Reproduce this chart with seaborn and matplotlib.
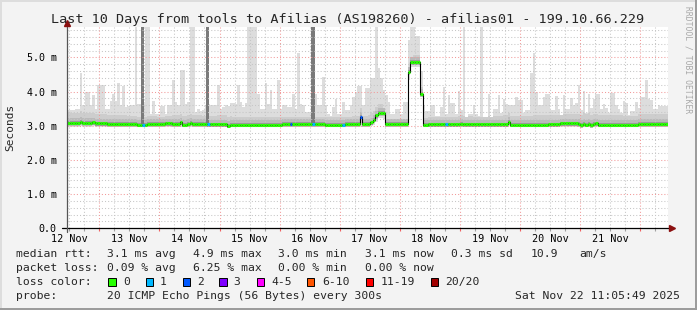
import numpy as np
import pandas as pd
import matplotlib
matplotlib.use("Agg")
import matplotlib.pyplot as plt
import seaborn as sns
from matplotlib.patches import Rectangle
from matplotlib.transforms import blended_transform_factory

# ---------------- data (hourly bins, ms) ----------------
title = "Last 10 Days from tools to Afilias (AS198260) - afilias01 - 199.10.66.229"
start_time = "2025-11-12 11:05:49"

smoke_max = (
    [3.45,3.45,3.45,3.50,3.50,4.54,3.60,3.99,3.99,3.60,3.89,3.50,4.20,4.20,4.20,3.48,3.50,3.71,3.94,3.71,4.26,3.60,4.16,3.55] +
    [3.58,3.60,3.60,5.90,3.65,3.65,3.65,5.90,5.90,3.35,3.71,3.35,3.35,3.58,3.58,3.35,3.60,3.60,4.33,3.69,3.62,4.62,4.62,3.65] +
    [3.69,5.90,5.90,3.40,3.50,3.42,3.45,3.60,3.65,3.62,3.60,3.60,4.20,3.50,3.55,3.62,3.58,3.67,3.67,3.65,4.18,3.69,3.55,3.67] +
    [5.90,5.90,5.90,5.90,3.94,3.50,3.50,4.26,3.65,4.04,3.50,3.50,4.33,3.50,3.62,3.62,3.55,3.55,3.94,3.50,5.14,3.65,3.60,3.40] +
    [3.40,3.40,3.55,3.94,3.60,3.60,4.43,3.60,3.35,3.29,3.55,3.77,3.35,3.35,3.69,3.45,3.45,3.60,3.84,3.99,4.17,4.17,3.60,4.10] +
    [4.10,4.39,4.39,5.90,4.68,4.40,4.06,3.90,3.70,3.35,3.35,3.50,3.50,3.35,3.70,3.70,5.50,5.90,5.90,5.64,5.64,4.60,3.60,3.42] +
    [3.42,3.60,3.60,3.29,3.29,3.55,4.13,3.35,3.89,3.67,3.67,3.35,4.01,3.45,5.90,3.26,3.35,3.35,3.60,3.35,3.29,5.90,3.26,3.26] +
    [3.94,3.26,3.48,3.48,3.89,3.38,3.77,3.65,3.62,3.62,3.62,3.84,3.74,3.74,3.38,3.45,3.45,4.53,5.14,3.99,3.60,3.60,3.84,3.94] +
    [3.94,3.45,3.45,3.87,3.50,3.32,3.89,3.48,3.48,3.81,3.60,3.67,4.18,3.45,4.01,3.38,3.94,3.52,3.79,3.94,3.94,3.50,3.65,3.52] +
    [3.38,3.97,3.97,3.60,3.50,3.38,3.71,3.67,3.32,3.42,3.42,3.69,3.52,3.84,3.84,4.33,3.79,3.74,3.50,3.50,3.60,3.58,3.58,3.58]
)

smoke_min = (
    [2.97,2.97,2.97,2.97,2.97,2.98,2.97,2.97,2.97,2.97,2.98,2.97,2.97,2.97,2.97,2.97,2.96,2.96,2.96,2.96,2.96,2.96,2.96,2.96] +
    [2.96,2.96,2.96,2.96,2.95,2.95,2.95,2.95,2.96,2.96,2.96,2.96,2.96,2.96,2.96,2.97,2.97,2.97,2.96,2.96,2.96,2.97,2.95,2.95] +
    [2.96,2.97,2.96,2.96,2.96,2.96,2.96,2.96,2.95,2.95,2.95,2.95,2.95,2.95,2.95,2.95,2.93,2.95,2.95,2.95,2.95,2.95,2.95,2.95] +
    [2.95,2.95,2.95,2.95,2.95,2.95,2.95,2.95,2.95,2.95,2.95,2.95,2.95,2.95,2.96,2.96,2.96,2.96,2.96,2.96,2.96,2.96,2.96,2.96] +
    [2.96,2.96,2.96,2.96,2.96,2.96,2.96,2.95,2.95,2.95,2.95,2.95,2.95,2.95,2.95,2.96,2.96,2.96,2.96,2.96,2.96,2.97,2.96,2.96] +
    [2.96,2.98,3.02,3.12,3.22,3.22,3.20,2.97,2.96,2.96,2.96,2.96,2.96,2.96,2.96,2.96,4.35,4.72,4.72,4.72,4.72,3.85,2.95,2.95] +
    [2.95,2.95,2.95,2.95,2.95,2.95,2.95,2.95,2.95,2.95,2.95,2.95,2.95,2.96,2.95,2.95,2.95,2.95,2.95,2.95,2.95,2.95,2.95,2.95] +
    [2.95,2.95,2.95,2.95,2.95,2.95,2.95,2.95,3.00,2.95,2.95,2.95,2.95,2.95,2.95,2.95,2.95,2.95,2.95,2.95,2.95,2.95,2.95,2.95] +
    [2.95,2.95,2.95,2.95,2.95,2.97,2.97,2.97,2.97,2.97,2.97,2.97,2.96,2.94,2.97,2.95,2.97,2.94,2.96,2.97,2.95,2.95,2.95,2.95] +
    [2.95,2.95,2.95,2.95,2.95,2.95,2.95,2.95,2.95,2.95,2.95,2.95,2.97,2.97,2.97,2.96,2.96,2.96,2.96,2.96,2.96,2.96,2.96,2.96]
)

median_rtt = (
    [3.08,3.08,3.08,3.08,3.08,3.12,3.08,3.08,3.08,3.08,3.10,3.07,3.07,3.07,3.07,3.07,3.05,3.05,3.05,3.05,3.05,3.05,3.05,3.05] +
    [3.05,3.05,3.05,3.05,3.03,3.03,3.03,3.03,3.05,3.05,3.05,3.05,3.05,3.05,3.05,3.07,3.07,3.07,3.05,3.05,3.05,3.10,3.03,3.03] +
    [3.05,3.09,3.05,3.05,3.05,3.05,3.05,3.05,3.04,3.04,3.04,3.04,3.04,3.04,3.04,3.04,3.00,3.03,3.03,3.03,3.03,3.03,3.03,3.03] +
    [3.03,3.03,3.03,3.03,3.03,3.03,3.03,3.03,3.03,3.03,3.03,3.03,3.03,3.03,3.05,3.05,3.05,3.05,3.05,3.05,3.05,3.05,3.05,3.05] +
    [3.05,3.05,3.05,3.05,3.05,3.05,3.05,3.03,3.03,3.03,3.03,3.03,3.03,3.03,3.03,3.05,3.05,3.05,3.05,3.05,3.05,3.27,3.05,3.05] +
    [3.05,3.10,3.18,3.30,3.38,3.38,3.38,3.06,3.05,3.05,3.05,3.05,3.05,3.05,3.05,3.05,4.57,4.86,4.86,4.86,4.86,3.94,3.03,3.03] +
    [3.04,3.04,3.04,3.04,3.04,3.04,3.04,3.04,3.04,3.04,3.04,3.04,3.04,3.06,3.04,3.04,3.04,3.04,3.04,3.04,3.04,3.04,3.04,3.04] +
    [3.04,3.04,3.04,3.04,3.04,3.04,3.04,3.04,3.12,3.03,3.03,3.03,3.03,3.03,3.03,3.03,3.03,3.03,3.03,3.03,3.03,3.03,3.03,3.03] +
    [3.04,3.04,3.04,3.04,3.04,3.07,3.07,3.07,3.07,3.07,3.07,3.07,3.05,3.02,3.06,3.03,3.06,3.02,3.05,3.07,3.03,3.03,3.03,3.03] +
    [3.03,3.03,3.03,3.03,3.03,3.03,3.03,3.03,3.03,3.03,3.03,3.03,3.06,3.06,3.06,3.05,3.05,3.05,3.05,3.05,3.05,3.05,3.05,3.05]
)

# upper spread of the denser smoke above the median, per 6-hour block
smoke_spread = [0.30,0.28,0.26,0.25, 0.24,0.24,0.22,0.25, 0.25,0.24,0.26,0.24,
                0.22,0.24,0.22,0.22, 0.20,0.22,0.22,0.24, 0.26,0.15,0.15,0.20,
                0.22,0.22,0.24,0.22, 0.24,0.26,0.26,0.28, 0.28,0.28,0.30,0.28,
                0.28,0.26,0.28,0.28]

# dense full-height smoke columns (hour start, hour end, top in ms)
dense_start = [29.5, 55.5, 97.4]
dense_end = [30.9, 56.9, 98.9]
dense_top = [5.9, 5.9, 5.9]

# hours with packet loss and number of lost pings
loss_hours = [30, 56, 89, 98, 110, 117, 151]
loss_counts = [1, 1, 2, 1, 1, 2, 1]

loss_labels = ["0", "1", "2", "3", "4-5", "6-10", "11-19", "20/20"]
loss_palette = ["#26ff00", "#00b8ff", "#0059ff", "#7e00ff", "#ff00ff", "#ff5500", "#ff0000", "#a10000"]

y_ticks = [0, 1, 2, 3, 4, 5]
y_tick_labels = ["0.0", "1.0 m", "2.0 m", "3.0 m", "4.0 m", "5.0 m"]
day_labels = ["12 Nov", "13 Nov", "14 Nov", "15 Nov", "16 Nov", "17 Nov", "18 Nov", "19 Nov", "20 Nov", "21 Nov"]

legend_rows = [
    ["median rtt:", "3.1 ms avg", "4.9 ms max", "3.0 ms min", "3.1 ms now", "0.3 ms sd", "10.9", "am/s"],
    ["packet loss:", "0.09 % avg", "6.25 % max", "0.00 % min", "0.00 % now"],
]
probe_text = ["probe:", "20 ICMP Echo Pings (56 Bytes) every 300s"]
stamp_text = "Sat Nov 22 11:05:49 2025"

# ---------------- derived ----------------
smoke_max = np.array(smoke_max)
smoke_min = np.array(smoke_min)
median_rtt = np.array(median_rtt)
n = len(median_rtt)
hours = np.arange(n)
edges = np.arange(n + 1)
loss = np.zeros(n, dtype=int)
for h, c in zip(loss_hours, loss_counts):
    loss[h] = c
def loss_color(c):
    if c <= 3:
        return loss_palette[c]
    if c <= 5:
        return loss_palette[4]
    if c <= 10:
        return loss_palette[5]
    if c < 20:
        return loss_palette[6]
    return loss_palette[7]
seg_colors = [loss_color(c) for c in loss]

def ext(a):
    a = np.asarray(a, dtype=float)
    return np.append(a, a[-1])

t0 = pd.Timestamp(start_time)
hr = pd.Timedelta(hours=1)
midnights = (pd.date_range("2025-11-13", "2025-11-22", freq="D") - t0) / hr
noons = (pd.date_range("2025-11-12 12:00", "2025-11-21 12:00", freq="D") - t0) / hr
six_h = (pd.date_range("2025-11-12 12:00", "2025-11-22 06:00", freq="6h") - t0) / hr
minor_h = [v for v in six_h if min(abs(v - m) for m in midnights) > 0.5]

# ---------------- figure ----------------
sns.set_style("white")
plt.rcParams["font.family"] = ["DejaVu Sans Mono", "DejaVu Sans"]

W, H = 697, 310
fig = plt.figure(figsize=(W / 100, H / 100), dpi=100, facecolor="#f3f3f3")
x0, x1, yb, yt = 67, 668, 228.3, 27.3
ax = fig.add_axes([x0 / W, (H - yb) / H, (x1 - x0) / W, (yb - yt) / H])
ax.set_facecolor("white")
ax.set_xlim(0, n)
ax.set_ylim(0, 5.88)
for s in ax.spines.values():
    s.set_visible(False)

# smoke
ax.fill_between(edges, ext(smoke_min), ext(smoke_max), step="post", color="#dddddd", lw=0, zorder=1)
mid_hi = np.minimum(median_rtt + np.repeat(smoke_spread, 6), smoke_max)
mid_lo = np.maximum(smoke_min, median_rtt - 0.09)
ax.fill_between(edges, ext(mid_lo), ext(mid_hi), step="post", color="#cdcdcd", lw=0, zorder=1.1)
ax.fill_between(edges, ext(mid_lo), ext(np.minimum(median_rtt + 0.14, mid_hi)), step="post",
                color="#bababa", lw=0, zorder=1.15)
ax.fill_between(edges, ext(np.maximum(smoke_min, median_rtt - 0.07)), ext(median_rtt + 0.05),
                step="post", color="#9a9a9a", lw=0, zorder=1.2)
for s_, e_, t_ in zip(dense_start, dense_end, dense_top):
    b_ = median_rtt[int(s_)]
    ax.bar(s_, t_ - b_, bottom=b_, width=e_ - s_, align="edge", color="#7a7a7a", lw=0, zorder=1.3)

# grid (drawn over smoke)
gray, red = "#c6c6c6", "#f29a9a"
for v in np.arange(0.2, 5.88, 0.2):
    if abs(v - round(v)) > 0.05:
        ax.axhline(v, color=gray, lw=0.75, ls=(0, (1, 2)), zorder=2)
for v in y_ticks[1:]:
    ax.axhline(v, color=red, lw=0.75, ls=(0, (1, 2)), zorder=2.1)
for v in minor_h:
    ax.axvline(v, color=gray, lw=0.75, ls=(0, (1, 2)), zorder=2)
for v in midnights:
    ax.axvline(v, color=red, lw=0.75, ls=(0, (1, 2)), zorder=2.1)

# median line
df = pd.DataFrame({"hour": edges, "median": ext(median_rtt)})
sns.lineplot(data=df, x="hour", y="median", drawstyle="steps-post", color="black",
             lw=0.8, ax=ax, legend=False, zorder=3)
ax.hlines(median_rtt, hours, hours + 1, colors=seg_colors, lw=2.2, zorder=4)
ax.set_xlabel("")
ax.set_ylabel("")

# ticks
ax.set_yticks(y_ticks, y_tick_labels)
ax.set_xticks(list(noons), day_labels)
ax.tick_params(axis="y", length=0, pad=7.5, labelsize=7.2, colors="#000000")
ax.tick_params(axis="x", length=0, pad=4.0, labelsize=7.3, colors="#000000")
trx = blended_transform_factory(ax.transData, ax.transAxes)
tk = 3.0 / (yb - yt)
ax.vlines(list(midnights), -tk, 0, transform=trx, colors="#f06060", lw=0.8, clip_on=False, zorder=5)
ax.vlines(minor_h, -tk, 0, transform=trx, colors="#a0a0a0", lw=0.8, clip_on=False, zorder=5)

# axes lines with arrows
pw = x1 - x0
ph = yb - yt
ax.plot([-5 / pw, 1 + 3 / pw], [0, 0], transform=ax.transAxes, color="black", lw=0.9, clip_on=False, zorder=6)
ax.plot([0, 0], [-4 / ph, 1 + 4 / ph], transform=ax.transAxes, color="#555555", lw=0.9, clip_on=False, zorder=6)
ax.plot([1 + 4 / pw], [0], marker=">", ms=4.5, color="#8b1010", transform=ax.transAxes, clip_on=False, zorder=7)
ax.plot([0], [1 + 4.5 / ph], marker="^", ms=4.5, color="#8b1010", transform=ax.transAxes, clip_on=False, zorder=7)

# titles and labels
fig.text(347.5 / W, 1 - 19 / H, title, ha="center", va="center", fontsize=9.7)
fig.text(10 / W, 1 - 127 / H, "Seconds", rotation=90, ha="center", va="center", fontsize=8.0)
fig.text(688 / W, 1 - 60 / H, "RRDTOOL / TOBI OETIKER", rotation=-90, ha="center", va="center",
         fontsize=5.8, color="#a8a8a8")

# legend text
fs = 8.2
row1_x = [16, 107, 193, 278, 365, 451, 531, 579]
row2_x = [16, 107, 193, 278, 365]
for txt, xx in zip(legend_rows[0], row1_x):
    fig.text(xx / W, 1 - 254 / H, txt, ha="left", va="center", fontsize=fs)
for txt, xx in zip(legend_rows[1], row2_x):
    fig.text(xx / W, 1 - 268 / H, txt, ha="left", va="center", fontsize=fs)
fig.text(16 / W, 1 - 282 / H, "loss color:", ha="left", va="center", fontsize=fs)
box_x = [108, 145.5, 182.5, 219, 256.5, 306.5, 365.5, 430.5]
lab_x = [123, 160, 197, 233, 271, 322, 381, 445]
for lab, col, bx, lx in zip(loss_labels, loss_palette, box_x, lab_x):
    fig.patches.append(Rectangle((bx / W, 1 - 286 / H), 7.5 / W, 8 / H, transform=fig.transFigure,
                                 facecolor=col, edgecolor="black", lw=0.7))
    fig.text(lx / W, 1 - 282 / H, lab, ha="left", va="center", fontsize=fs)
fig.text(16 / W, 1 - 296 / H, probe_text[0], ha="left", va="center", fontsize=fs)
fig.text(107 / W, 1 - 296 / H, probe_text[1], ha="left", va="center", fontsize=fs)
fig.text(680 / W, 1 - 296 / H, stamp_text, ha="right", va="center", fontsize=fs)

# 3D frame
fig.patches.append(Rectangle((0, 1 - 2 / H), 1, 2 / H, transform=fig.transFigure, color="#dddddd", lw=0))
fig.patches.append(Rectangle((0, 0), 2 / W, 1, transform=fig.transFigure, color="#dddddd", lw=0))
fig.patches.append(Rectangle((0, 0), 1, 2.5 / H, transform=fig.transFigure, color="#9c9c9c", lw=0))
fig.patches.append(Rectangle((1 - 2.5 / W, 0), 2.5 / W, 1, transform=fig.transFigure, color="#9c9c9c", lw=0))

fig.savefig("out.png", dpi=100, facecolor=fig.get_facecolor())
